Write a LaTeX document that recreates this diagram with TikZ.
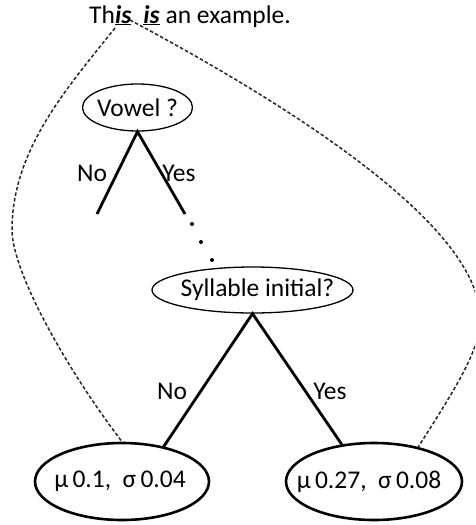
\documentclass[tikz,border=0pt]{standalone}
\usepackage{fontspec}
\setmainfont{Carlito}
\usetikzlibrary{shapes.geometric}
\begin{document}
\begin{tikzpicture}[x=1pt,y=-1pt,
  txt/.style={font=\fontsize{25.5}{30}\selectfont, inner sep=0pt},
  question/.style={ellipse, draw, line width=1.3pt, inner sep=0pt, font=\fontsize{25.5}{30}\selectfont},
  leaf/.style={ellipse, draw, line width=2.6pt, inner sep=0pt, minimum width=174pt, minimum height=77pt, font=\fontsize{25.5}{30}\selectfont},
  branch/.style={line width=2.8pt},
  link/.style={line width=1.5pt, dash pattern=on 3.5pt off 2.2pt, black!85},
  dotmark/.style={circle, fill=black, inner sep=0pt, minimum size=4pt}
]
\useasboundingbox (0,0) rectangle (475,525);
\clip (0,0) rectangle (475,525);

% top sentence
\node[txt, anchor=base west] (sentence) at (89,23)
  {Th\underline{\textbf{\textit{is}}}\hspace{12pt}\underline{\textbf{\textit{is}}} an example.};
\coordinate (isA) at (115,28);
\coordinate (isB) at (130,20);

% question nodes
\node[question, minimum width=110pt, minimum height=47pt] (vowel) at (137.5,107.5) {\makebox[0pt]{Vowel ?}};
\node[question, minimum width=201pt, minimum height=46pt] (syll) at (252.5,290) {\makebox[0pt]{\hspace*{10pt}Syllable initial?}};

% leaves
\node[leaf] (leafL) at (122,481.5) {\makebox[0pt]{μ\,0.1,\ \ σ\,0.04\hspace*{4pt}}};
\node[leaf, minimum width=176pt] (leafR) at (374,481.5) {\makebox[0pt]{μ\,0.27,\ \ σ\,0.08\hspace*{10pt}}};

% vowel branches
\coordinate (vNo) at (97,214);
\coordinate (vYes) at (185,214);
\draw[branch] (vNo) -- (vowel.south) -- (vYes);
\node[txt] (labNo1) at (92,173) {No};
\node[txt] (labYes1) at (179,173) {Yes};

% dots
\node[dotmark] (d1) at (192,224) {};
\node[dotmark] (d2) at (201,242) {};
\node[dotmark] (d3) at (212,260) {};

% syllable branches
\draw[branch] (leafL.40) -- (syll.south) -- (leafR.131);
\node[txt] (labNo2) at (172,391) {No};
\node[txt] (labYes2) at (330,391) {Yes};

% dashed links
\coordinate (lmid) at (12,230);
\coordinate (rmid) at (480,318);
\draw[link] (isA) .. controls (67,88) and (12,150) .. (lmid)
  .. controls (12,270) and (63.5,365) .. (leafL.north);
\draw[link] (isB) .. controls (302,112) and (480,228) .. (rmid)
  .. controls (480,348) and (462,378.5) .. (leafR.38);
\end{tikzpicture}
\end{document}
